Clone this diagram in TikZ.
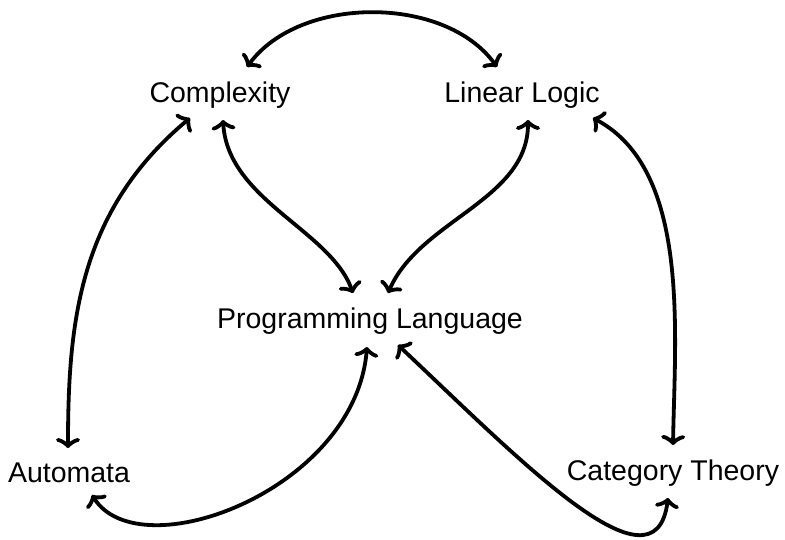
\documentclass[tikz,border=0pt]{standalone}
\usepackage{fontspec}
\setmainfont{Liberation Sans}
\usetikzlibrary{arrows.meta}
\begin{document}
\begin{tikzpicture}[x=1pt,y=-1pt,
  lbl/.style={inner sep=0pt, anchor=base, font=\fontsize{28.5}{34}\selectfont},
  link/.style={line width=3.8pt, line cap=round, {Classical TikZ Rightarrow[length=10pt,width=24pt,line width=3.8pt]}-{Classical TikZ Rightarrow[length=10pt,width=24pt,line width=3.8pt]}}]
\useasboundingbox (0,0) rectangle (785,539);
\node[lbl] (cx) at (220,102) {Complexity};
\node[lbl] (ll) at (522,102) {Linear Logic};
\node[lbl] (pl) at (370,328) {Programming Language};
\node[lbl] (au) at (69,482) {Automata};
\node[lbl] (ct) at (673,480) {Category Theory};
% Complexity <-> Linear Logic
\draw[link] ([shift={(27,-35)}]cx.base) .. controls (300,-5) and (445,-5) .. ([shift={(-25,-35)}]ll.base);
% Complexity <-> Programming Language
\draw[link] ([shift={(3,18)}]cx.base) .. controls (228,200) and (330,230) .. ([shift={(-17,-35)}]pl.base);
% Linear Logic <-> Programming Language
\draw[link] ([shift={(6,18)}]ll.base) .. controls (528,200) and (420,220) .. ([shift={(18,-35)}]pl.base);
% Complexity <-> Automata
\draw[link] ([shift={(-30,16)}]cx.base) .. controls (80,210) and (68,320) .. ([shift={(-1,-34)}]au.base);
% Linear Logic <-> Category Theory
\draw[link] ([shift={(71,16)}]ll.base) .. controls (690,170) and (675,330) .. ([shift={(0,-35)}]ct.base);
% Automata <-> Programming Language
\draw[link] ([shift={(23,13)}]au.base) .. controls (140,570) and (355,490) .. ([shift={(-3,19)}]pl.base);
% Programming Language <-> Category Theory
\draw[link] ([shift={(28,17)}]pl.base) .. controls (520,460) and (655,600) .. ([shift={(-5,18)}]ct.base);
\end{tikzpicture}
\end{document}
